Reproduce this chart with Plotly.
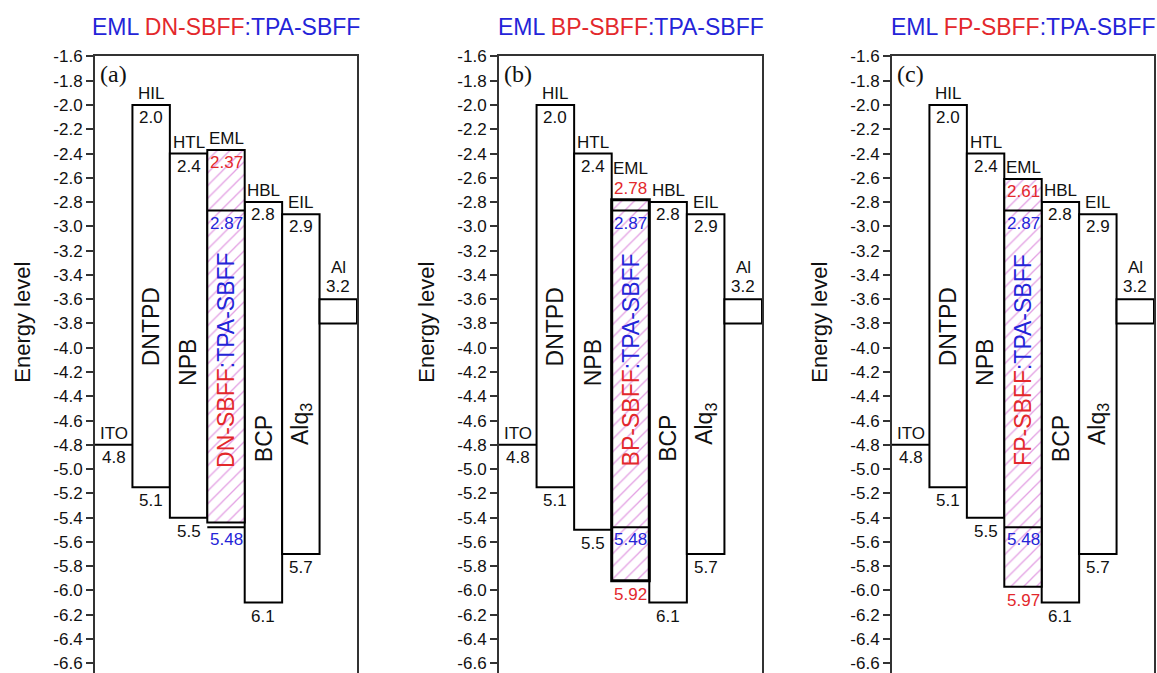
import plotly.graph_objects as go

# ---------------- data ----------------
panel_tags = ["(a)", "(b)", "(c)"]
dopants = ["DN-SBFF", "BP-SBFF", "FP-SBFF"]
host_name = "TPA-SBFF"

layer_names = ["ITO", "HIL", "HTL", "EML", "HBL", "EIL", "Al"]
materials = ["", "DNTPD", "NPB", "", "BCP", "Alq<sub>3</sub>", ""]

ito_level = -4.8
hil_top, hil_bottom = -2.0, -5.15
htl_top = -2.4
htl_bottom = [-5.4, -5.5, -5.4]
dopant_lumo = [-2.37, -2.78, -2.61]
dopant_homo = [-5.44, -5.92, -5.97]
host_lumo = -2.87
host_homo = -5.48
hbl_top, hbl_bottom = -2.8, -6.1
eil_top, eil_bottom = -2.9, -5.7
al_top, al_bottom = -3.6, -3.8

top_value_labels = ["", "2.0", "2.4", "", "2.8", "2.9", "3.2"]
bottom_value_labels = ["4.8", "5.1", "5.5", "", "6.1", "5.7", ""]
dopant_lumo_labels = ["2.37", "2.78", "2.61"]
dopant_homo_labels = ["", "5.92", "5.97"]
host_lumo_label = "2.87"
host_homo_label = "5.48"

tick_labels = ["-1.6", "-1.8", "-2.0", "-2.2", "-2.4", "-2.6", "-2.8", "-3.0",
               "-3.2", "-3.4", "-3.6", "-3.8", "-4.0", "-4.2", "-4.4", "-4.6",
               "-4.8", "-5.0", "-5.2", "-5.4", "-5.6", "-5.8", "-6.0", "-6.2",
               "-6.4", "-6.6"]
tick_values = [float(t) for t in tick_labels]

# ---------------- style ----------------
W, H = 1157, 673
FONT = "Liberation Sans, Arial, sans-serif"
SERIF = "Liberation Serif, Times New Roman, serif"
BLUE = "#2424d8"
RED = "#e3282c"
PINK = "#e3a0e3"
frames_px = [(95, 357), (499, 762), (892, 1154)]
top_px = 48
LBL = 17
ROT = 23

fig = go.Figure()
annotations = []


def ann(k, x, y, text, **kw):
    sfx = "" if k == 0 else str(k + 1)
    d = dict(x=x, y=y, text=text, xref="x" + sfx, yref="y" + sfx,
             showarrow=False, font=dict(family=FONT, size=LBL, color="#111"))
    font = kw.pop("font", None)
    if font:
        d["font"].update(font)
    d.update(kw)
    annotations.append(d)


for k in range(3):
    sfx = "" if k == 0 else str(k + 1)
    xa, ya = "x" + sfx, "y" + sfx
    tops = [None, hil_top, htl_top, dopant_lumo[k], hbl_top, eil_top, al_top]
    bottoms = [None, hil_bottom, htl_bottom[k], dopant_homo[k], hbl_bottom, eil_bottom, al_bottom]

    idx = [1, 2, 4, 5, 6]
    fig.add_trace(go.Bar(
        x=[i + 0.5 for i in idx],
        y=[tops[i] - bottoms[i] for i in idx],
        base=[bottoms[i] for i in idx],
        width=1, xaxis=xa, yaxis=ya,
        marker=dict(color="white", line=dict(color="black", width=2)),
        hoverinfo="skip"))
    fig.add_trace(go.Bar(
        x=[3.5], y=[tops[3] - bottoms[3]], base=[bottoms[3]],
        width=1, xaxis=xa, yaxis=ya,
        marker=dict(color="white", line=dict(color="black", width=3 if k == 1 else 2),
                    pattern=dict(shape="/", fgcolor=PINK, bgcolor="white",
                                 size=9, solidity=0.14, fillmode="replace")),
        hoverinfo="skip"))
    # ITO work function
    fig.add_trace(go.Scatter(x=[0, 1], y=[ito_level, ito_level], mode="lines",
                             line=dict(color="black", width=2), xaxis=xa, yaxis=ya,
                             hoverinfo="skip"))
    # host levels inside EML
    fig.add_trace(go.Scatter(x=[3, 4, None, 3, 4],
                             y=[host_lumo, host_lumo, None, host_homo, host_homo],
                             mode="lines", line=dict(color="black", width=2),
                             xaxis=xa, yaxis=ya, hoverinfo="skip"))

    # ---- labels ----
    ann(k, 0.5, ito_level, layer_names[0], yanchor="bottom", yshift=0)
    ann(k, 0.5, ito_level, bottom_value_labels[0], yanchor="top", yshift=-1)
    for i in [1, 2, 4, 5]:
        ann(k, i + 0.5, tops[i], layer_names[i], yanchor="bottom", yshift=0)
        ann(k, i + 0.5, tops[i], top_value_labels[i], yanchor="top", yshift=-1)
        ann(k, i + 0.5, bottoms[i], bottom_value_labels[i], yanchor="top", yshift=-2)
    # Al
    ann(k, 6.5, al_top, top_value_labels[6], yanchor="bottom", yshift=1)
    ann(k, 6.5, al_top, layer_names[6], yanchor="bottom", yshift=20)
    # EML
    if k == 1:
        ann(k, 3.5, tops[3], dopant_lumo_labels[k], yanchor="bottom", yshift=0,
            font=dict(color=RED))
        ann(k, 3.5, tops[3], layer_names[3], yanchor="bottom", yshift=20)
    else:
        ann(k, 3.5, tops[3], dopant_lumo_labels[k], yanchor="top", yshift=-1,
            font=dict(color=RED))
        ann(k, 3.5, tops[3], layer_names[3], yanchor="bottom", yshift=0)
    ann(k, 3.5, host_lumo, host_lumo_label, yanchor="top", yshift=-1,
        font=dict(color=BLUE))
    ann(k, 3.5, host_homo, host_homo_label, yanchor="top", yshift=-1,
        font=dict(color=BLUE))
    if dopant_homo_labels[k]:
        ann(k, 3.5, bottoms[3], dopant_homo_labels[k], yanchor="top", yshift=-2,
            font=dict(color=RED))

    # rotated material names
    rot_centers = [None, -3.83, -4.12, -4.1, -4.75, -4.63, None]
    for i in [1, 2, 4, 5]:
        ann(k, i + 0.5, rot_centers[i], materials[i], textangle=-90,
            font=dict(size=ROT))
    ann(k, 3.5, rot_centers[3],
        f"<span style='color:{RED}'>{dopants[k]}</span>"
        f"<span style='color:{BLUE}'>:{host_name}</span>",
        textangle=-90, font=dict(size=ROT))

    # panel tag
    ann(k, 0, -1.6, panel_tags[k], xanchor="left", yanchor="top", xshift=3, yshift=-3,
        font=dict(family=SERIF, size=24))

    # panel title
    l, r = frames_px[k]
    annotations.append(dict(
        x=(l + r) / 2 / W, y=1 - 18 / H, xref="paper", yref="paper",
        showarrow=False, xanchor="center", yanchor="middle",
        text=(f"<span style='color:{BLUE}'>EML </span>"
              f"<span style='color:{RED}'>{dopants[k]}</span>"
              f"<span style='color:{BLUE}'>:{host_name}</span>"),
        font=dict(family=FONT, size=23)))
    # y axis title
    annotations.append(dict(
        x=(l - 72) / W, y=1 - 318 / H, xref="paper", yref="paper",
        showarrow=False, xanchor="center", yanchor="middle", textangle=-90,
        text="Energy level", font=dict(family=FONT, size=22, color="#111")))

    fig.update_layout({
        "xaxis" + sfx: dict(domain=[l / W, r / W], range=[0, 7], anchor=ya,
                            showgrid=False, zeroline=False, showticklabels=False,
                            ticks="", showline=True, side="top",
                            linecolor="#333", linewidth=2, fixedrange=True),
        "yaxis" + sfx: dict(domain=[0, 1 - top_px / H], range=[-6.68, -1.599],
                            anchor=xa, tickvals=tick_values, ticktext=tick_labels,
                            ticks="outside", ticklen=7, tickwidth=1.5, tickcolor="#333",
                            showline=True, mirror=True, linecolor="#333", linewidth=2,
                            showgrid=False, zeroline=False, ticklabeloverflow="allow",
                            tickfont=dict(family=FONT, size=17, color="#111")),
    })

fig.update_layout(width=W, height=H, margin=dict(l=0, r=0, t=0, b=0),
                  paper_bgcolor="white", plot_bgcolor="white",
                  showlegend=False, barmode="overlay", annotations=annotations)

fig.write_html("out.html")
